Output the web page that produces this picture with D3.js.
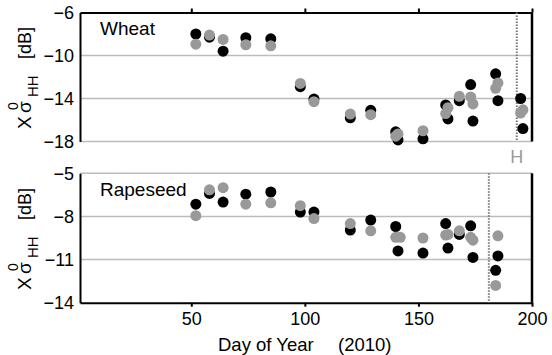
<!DOCTYPE html>
<html>
<head>
<meta charset="utf-8">
<script src="https://cdn.jsdelivr.net/npm/d3@7"></script>
<style>
  body { margin: 0; background: #fff; }
  text { font-family: "Liberation Sans", Arial, sans-serif; }
</style>
</head>
<body>
<main></main>
<script>
// Datos (dia del año, dB)

const wheatBlackDays = [52, 58, 64, 74, 85, 98, 104, 120, 129, 140, 141, 152, 162, 163, 168, 173, 174, 184, 185, 195, 196];
const wheatBlackVals = [-8.0, -8.3, -9.6, -8.35, -8.45, -12.9, -14.05, -15.8, -15.1, -17.1, -17.85, -17.75, -14.6, -15.9, -14.2, -12.7, -16.1, -11.7, -14.2, -14.0, -16.8];

const wheatGrayDays = [52, 58, 64, 74, 85, 98, 104, 120, 129, 140, 141, 152, 162, 163, 168, 173, 174, 184, 185, 195, 196];
const wheatGrayVals = [-8.95, -8.1, -8.5, -9.0, -9.1, -12.6, -14.3, -15.45, -15.5, -17.5, -17.3, -17.0, -15.4, -14.85, -13.8, -13.85, -14.5, -13.05, -12.55, -15.35, -15.05];

const rapeBlackDays = [52, 58, 64, 74, 85, 98, 104, 120, 129, 140, 141, 152, 162, 163, 168, 173, 174, 184, 185];
const rapeBlackVals = [-7.15, -6.4, -7.0, -6.45, -6.3, -7.7, -7.7, -8.95, -8.25, -8.7, -10.4, -10.55, -8.5, -10.2, -9.25, -8.65, -10.85, -11.75, -10.75];

const rapeGrayDays = [52, 58, 64, 74, 85, 98, 104, 120, 129, 140, 142, 152, 162, 163, 168, 173, 174, 184, 185];
const rapeGrayVals = [-7.95, -6.15, -6.0, -7.15, -7.05, -7.25, -8.15, -8.5, -9.0, -9.45, -9.45, -9.5, -9.3, -9.25, -9.0, -9.45, -9.65, -12.8, -9.35];

const xTicks = [50, 100, 150, 200];
const wheatTicks = [-6, -10, -14, -18];
const rapeTicks = [-5, -8, -11, -14];

const harvestWheat = 193.3;     // linea punteada (cosecha)
const harvestRape = 181;

//Tamaño
const [w, h] = [552, 355];

const svg = d3.select('main')
    .append('svg')
    .attr('width', w)
    .attr('height', h);

//Escala X comun
const xScale = d3.scaleLinear()
    .domain([1, 200])
    .range([80, 532]);

//Paneles
const paneles = [
    {
        nombre: 'Wheat', top: 12.5, bottom: 141.5, domain: [-18, -6], ticks: wheatTicks,
        grid: [-10, -14, -18], black: [wheatBlackDays, wheatBlackVals], gray: [wheatGrayDays, wheatGrayVals],
        harvest: harvestWheat, nameY: 35, ejeTop: true
    },
    {
        nombre: 'Rapeseed', top: 173.3, bottom: 302.7, domain: [-14, -5], ticks: rapeTicks,
        grid: [-5, -8, -11], black: [rapeBlackDays, rapeBlackVals], gray: [rapeGrayDays, rapeGrayVals],
        harvest: harvestRape, nameY: 196, ejeTop: false
    }
];

paneles.forEach((p) => {

    const yScale = d3.scaleLinear()
        .domain(p.domain)
        .range([p.bottom, p.top]);

    //Lineas de rejilla
    svg.append('g')
        .selectAll('line')
        .data(p.grid)
        .enter()
        .append('line')
        .attr('x1', xScale(1))
        .attr('x2', xScale(200))
        .attr('y1', (d) => yScale(d))
        .attr('y2', (d) => yScale(d))
        .attr('stroke', '#bcbcbc')
        .attr('stroke-width', 1.6);

    //Eje Y
    const ejeY = d3.axisLeft(yScale)
        .tickValues(p.ticks)
        .tickSize(0)
        .tickPadding(6);

    const gy = svg.append('g')
        .attr('transform', 'translate(' + xScale(1) + ',0)')
        .call(ejeY);

    gy.select('.domain').attr('stroke', '#000').attr('stroke-width', 2);
    gy.selectAll('text').attr('font-size', 18).attr('fill', '#000').attr('font-family', '"Liberation Sans", Arial, sans-serif');

    //Borde derecho
    svg.append('line')
        .attr('x1', xScale(200))
        .attr('x2', xScale(200))
        .attr('y1', yScale(p.domain[1]))
        .attr('y2', yScale(p.domain[0]))
        .attr('stroke', '#000')
        .attr('stroke-width', 2.5);

    //Eje superior (solo trigo) o inferior (solo colza)
    if (p.ejeTop) {
        const ejeX = d3.axisTop(xScale)
            .tickValues(xTicks)
            .tickSize(4)
            .tickSizeOuter(0)
            .tickFormat('');

        svg.append('g')
            .attr('transform', 'translate(0,' + yScale(p.domain[1]) + ')')
            .call(ejeX)
            .call((g) => g.selectAll('path, line').attr('stroke', '#000').attr('stroke-width', 2));
    } else {
        const ejeX = d3.axisBottom(xScale)
            .tickValues(xTicks)
            .tickSize(4)
            .tickSizeOuter(0)
            .tickPadding(6);

        svg.append('g')
            .attr('transform', 'translate(0,' + yScale(p.domain[0]) + ')')
            .call(ejeX)
            .call((g) => g.selectAll('path, line').attr('stroke', '#000').attr('stroke-width', 2))
            .call((g) => g.selectAll('text').attr('font-size', 18).attr('fill', '#000').attr('font-family', '"Liberation Sans", Arial, sans-serif'));
    }

    //Linea punteada
    svg.append('line')
        .attr('x1', xScale(p.harvest))
        .attr('x2', xScale(p.harvest))
        .attr('y1', yScale(p.domain[1]))
        .attr('y2', yScale(p.domain[0]))
        .attr('stroke', '#777')
        .attr('stroke-width', 2)
        .attr('stroke-dasharray', '1.5,1.5');

    //Puntos negros primero, grises encima
    [[p.black, '#000'], [p.gray, '#999']].forEach(([serie, color]) => {
        svg.append('g')
            .selectAll('circle')
            .data(serie[0])
            .enter()
            .append('circle')
            .attr('cx', (d) => xScale(d))
            .attr('cy', (d, i) => yScale(serie[1][i]))
            .attr('r', 5.5)
            .attr('fill', color);
    });

    //Nombre del cultivo
    svg.append('text')
        .attr('x', 100)
        .attr('y', p.nameY)
        .attr('font-size', 19)
        .text(p.nombre);

    //Etiqueta Y rotada
    const cy = (p.top + p.bottom) / 2;
    const lab = svg.append('g')
        .attr('transform', 'translate(31,' + cy + ') rotate(-90)');

    lab.append('text').attr('x', -52).attr('y', 0).attr('font-size', 19).text('X');
    lab.append('text').attr('x', -36).attr('y', 0).attr('font-size', 19).text('σ');
    lab.append('text').attr('x', -33).attr('y', -13).attr('font-size', 14).text('0');
    lab.append('text').attr('x', -20).attr('y', 7).attr('font-size', 15).text('HH');
    lab.append('text').attr('x', 18).attr('y', 0).attr('font-size', 18).text('[dB]');
});

//Etiqueta "H"
svg.append('text')
    .attr('x', xScale(harvestWheat))
    .attr('y', 163)
    .attr('text-anchor', 'middle')
    .attr('font-size', 18)
    .attr('fill', '#999')
    .text('H');

//Titulo eje X
svg.append('text')
    .attr('x', 218)
    .attr('y', 351)
    .attr('font-size', 18.5)
    .text('Day of Year');

svg.append('text')
    .attr('x', 338)
    .attr('y', 351)
    .attr('font-size', 18.5)
    .text('(2010)');
</script>
</body>
</html>
